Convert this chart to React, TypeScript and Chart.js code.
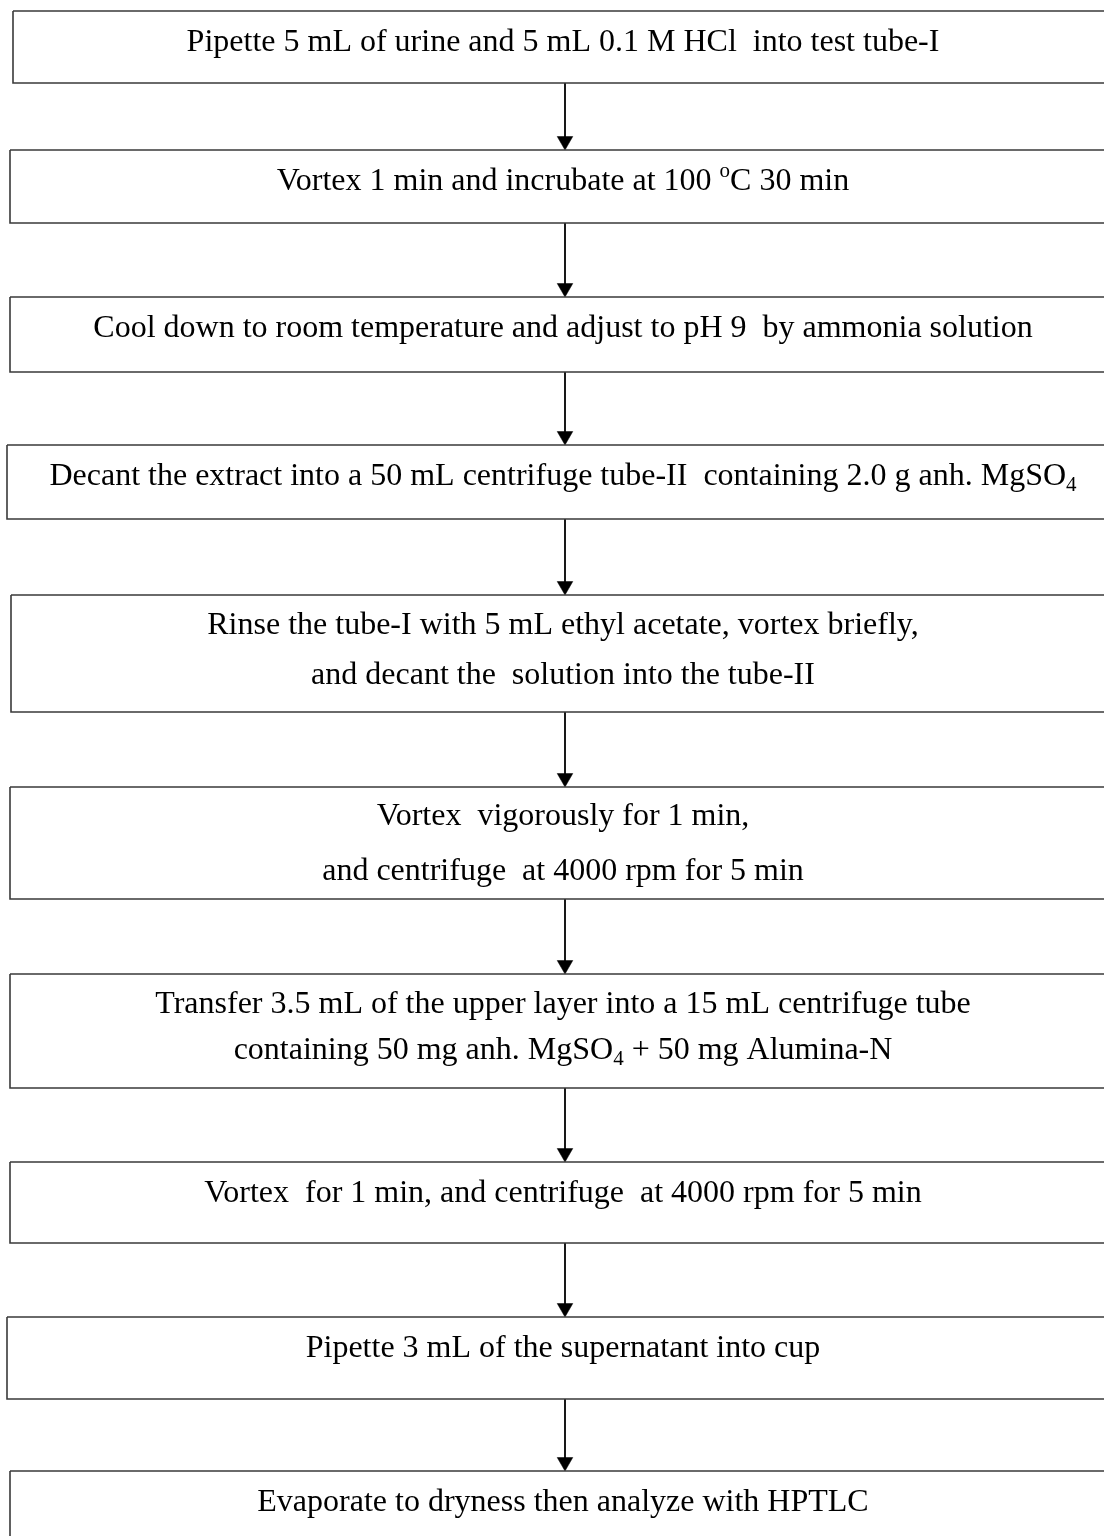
import React, { useEffect, useRef } from "react";
import { Chart, registerables } from "chart.js";

Chart.register(...registerables);

// ---- Content (flowchart steps; ^{..} = superscript, _{..} = subscript) ----
const step1 = ["Pipette 5 mL of urine and 5 mL 0.1 M HCl  into test tube-I"];
const step2 = ["Vortex 1 min and incrubate at 100 ^{o}C 30 min"];
const step3 = ["Cool down to room temperature and adjust to pH 9  by ammonia solution"];
const step4 = ["Decant the extract into a 50 mL centrifuge tube-II  containing 2.0 g anh. MgSO_{4}"];
const step5 = ["Rinse the tube-I with 5 mL ethyl acetate, vortex briefly,", "and decant the  solution into the tube-II"];
const step6 = ["Vortex  vigorously for 1 min,", "and centrifuge  at 4000 rpm for 5 min"];
const step7 = ["Transfer 3.5 mL of the upper layer into a 15 mL centrifuge tube", "containing 50 mg anh. MgSO_{4} + 50 mg Alumina-N"];
const step8 = ["Vortex  for 1 min, and centrifuge  at 4000 rpm for 5 min"];
const step9 = ["Pipette 3 mL of the supernatant into cup"];
const step10 = ["Evaporate to dryness then analyze with HPTLC"];
const steps = [step1, step2, step3, step4, step5, step6, step7, step8, step9, step10];

// ---- Layout (page units mapped through the chart's linear scales) ----
const boxTop = [11, 150, 297, 445, 595, 787, 974, 1162, 1317, 1471];
const boxBottom = [83, 223, 372, 519, 712, 899, 1088, 1243, 1399, 1570];
const boxLeft = [13, 10, 10, 7, 11, 10, 10, 10, 7, 10];
const baselineOffset = [40, 40, 40, 40, 39, 38, 39, 40, 40, 40];
const lineGaps = [48, 48, 48, 48, 50, 55, 46, 48, 48, 48];
const boxRight = 1125;
const arrowX = 565;
const textCenterX = 563;
const arrowHeadRadius = 9;

const FONT_FAMILY = '"Liberation Serif", "Times New Roman", serif';
const FONT_SIZE = 32;
const SMALL_FONT_SIZE = 21;

type Seg = { text: string; kind: "n" | "sup" | "sub" };

function parseRich(s: string): Seg[] {
  const parts = s.split(/(\^\{[^}]*\}|_\{[^}]*\})/);
  const out: Seg[] = [];
  for (const p of parts) {
    if (!p) continue;
    if (p.startsWith("^{")) out.push({ text: p.slice(2, -1), kind: "sup" });
    else if (p.startsWith("_{")) out.push({ text: p.slice(2, -1), kind: "sub" });
    else out.push({ text: p, kind: "n" });
  }
  return out;
}

const textPlugin = {
  id: "flowText",
  afterDatasetsDraw(chart: any) {
    const ctx = chart.ctx as CanvasRenderingContext2D;
    const xs = chart.scales.x;
    const ys = chart.scales.y;
    ctx.save();
    ctx.fillStyle = "#000";
    ctx.textBaseline = "alphabetic";
    ctx.textAlign = "left";
    steps.forEach((lines, i) => {
      lines.forEach((line, li) => {
        const segs = parseRich(line);
        let total = 0;
        const widths = segs.map((sg) => {
          ctx.font = `${sg.kind === "n" ? FONT_SIZE : SMALL_FONT_SIZE}px ${FONT_FAMILY}`;
          const w = ctx.measureText(sg.text).width;
          total += w;
          return w;
        });
        const cx = xs.getPixelForValue(textCenterX);
        const by = ys.getPixelForValue(boxTop[i] + baselineOffset[i] + li * lineGaps[i]);
        let x = cx - total / 2;
        segs.forEach((sg, k) => {
          ctx.font = `${sg.kind === "n" ? FONT_SIZE : SMALL_FONT_SIZE}px ${FONT_FAMILY}`;
          const dy = sg.kind === "sup" ? -13 : sg.kind === "sub" ? 6 : 0;
          ctx.fillText(sg.text, x, by + dy);
          x += widths[k];
        });
      });
    });
    ctx.restore();
  },
};

export default function App() {
  const ref = useRef<HTMLCanvasElement | null>(null);
  useEffect(() => {
    if (!ref.current) return;
    const boxSets = steps.map((_, i) => ({
      label: `box${i + 1}`,
      data: [
        { x: boxLeft[i], y: boxTop[i] },
        { x: boxRight, y: boxTop[i] },
        { x: boxRight, y: boxBottom[i] },
        { x: boxLeft[i], y: boxBottom[i] },
        { x: boxLeft[i], y: boxTop[i] },
      ],
      showLine: true,
      borderColor: "#3a3a3a",
      borderWidth: 1.6,
      pointRadius: 0,
      tension: 0,
      fill: false,
    }));
    const arrowSets = steps.slice(0, -1).map((_, i) => ({
      label: `arrow${i + 1}`,
      data: [
        { x: arrowX, y: boxBottom[i] },
        { x: arrowX, y: boxTop[i + 1] - arrowHeadRadius },
      ],
      showLine: true,
      borderColor: "#000",
      borderWidth: 1.8,
      pointRadius: [0, arrowHeadRadius],
      pointStyle: "triangle",
      rotation: 180,
      pointBackgroundColor: "#000",
      pointBorderColor: "#000",
      pointBorderWidth: 0.5,
      tension: 0,
      fill: false,
    }));
    const chart = new Chart(ref.current, {
      type: "scatter",
      data: { datasets: [...boxSets, ...arrowSets] as any },
      options: {
        animation: false,
        responsive: false,
        events: [],
        layout: { padding: 0, autoPadding: false },
        plugins: { legend: { display: false }, tooltip: { enabled: false }, title: { display: false } },
        scales: {
          x: { type: "linear", min: 0, max: 1104, display: false },
          y: { type: "linear", min: 0, max: 1536, reverse: true, display: false },
        },
      } as any,
      plugins: [textPlugin],
    });
    return () => chart.destroy();
  }, []);
  return (
    <div style={{ position: "absolute", left: 0, top: 0, width: 1104, height: 1536, background: "#fff" }}>
      <canvas ref={ref} width={1104} height={1536} style={{ display: "block", width: 1104, height: 1536 }} />
    </div>
  );
}
